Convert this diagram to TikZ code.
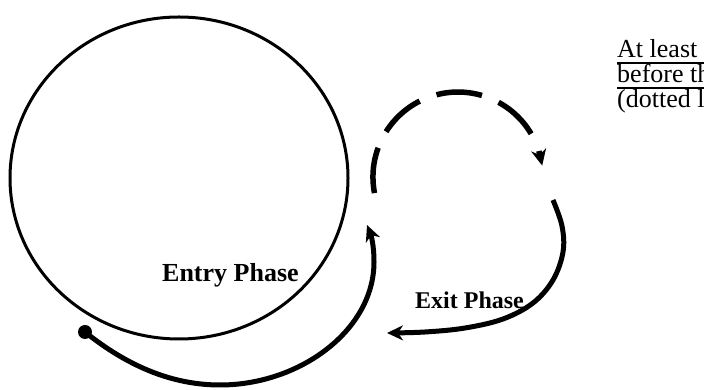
\documentclass[tikz,border=0pt]{standalone}
\usepackage{fontspec}
\setmainfont{Liberation Serif}
\usetikzlibrary{arrows.meta}
\begin{document}
\begin{tikzpicture}[x=1pt,y=1pt,
  orbit/.style={line width=3pt},
  thickpath/.style={line width=5pt},
  dashpath/.style={line width=5.5pt, dash pattern=on 46pt off 18pt},
  tiparrow/.style={-{Stealth[length=16pt,width=15pt,inset=5pt]}},
  lbl/.style={font=\fontsize{26}{26}\selectfont\bfseries, inner sep=0pt, anchor=base west},
  note/.style={font=\fontsize{26}{26}\selectfont, inner sep=0pt, anchor=base west},
  uline/.style={line width=2pt}]
\useasboundingbox (0,0) rectangle (704,390);
\clip (0,0) rectangle (704,390);
% big orbit
\coordinate (planet) at (179,212);
\draw[orbit] (planet) ellipse [x radius=169, y radius=161];
% entry path
\coordinate (entrystart) at (85,58);
\coordinate (entrylow) at (220,5);
\coordinate (entryside) at (374,128);
\coordinate (entrytip) at (367,165);
\fill (entrystart) circle (7);
\draw[thickpath, tiparrow] (entrystart) .. controls (120,30) and (165,5) .. (entrylow)
  .. controls (300,5) and (374,60) .. (entryside)
  .. controls (374,145) and (371,155) .. (entrytip);
% dashed orbit
\coordinate (dstart) at (374.5,196.9);
\draw[dashpath] (dstart) arc[start angle=190.9, end angle=30.6, radius=85];
\coordinate (dhead) at (538.9,239.0);
\coordinate (dtip) at (542.2,224.4);
\draw[line width=5.5pt, tiparrow] (dhead) -- (dtip);
% exit path
\draw[thickpath, tiparrow] plot[smooth, tension=0.6] coordinates {(553,190) (562,164) (563,138) (553,110) (533,87) (503,71) (465,62) (425,58) (387,57)};
% labels
\node[lbl] (entry) at (162,108) {Entry Phase};
\node[lbl, font=\fontsize{24}{24}\selectfont\bfseries] (exit) at (415,81) {Exit Phase};
\node[note] (n1) at (617,332) {At least one full orbit};
\node[note] (n2) at (617,307) {before the descent};
\node[note] (n3) at (617,282) {(dotted line)};
\draw[uline] ([yshift=-5pt]n1.base west) -- ++(100,0);
\draw[uline] ([yshift=-5pt]n2.base west) -- ++(100,0);
\end{tikzpicture}
\end{document}
